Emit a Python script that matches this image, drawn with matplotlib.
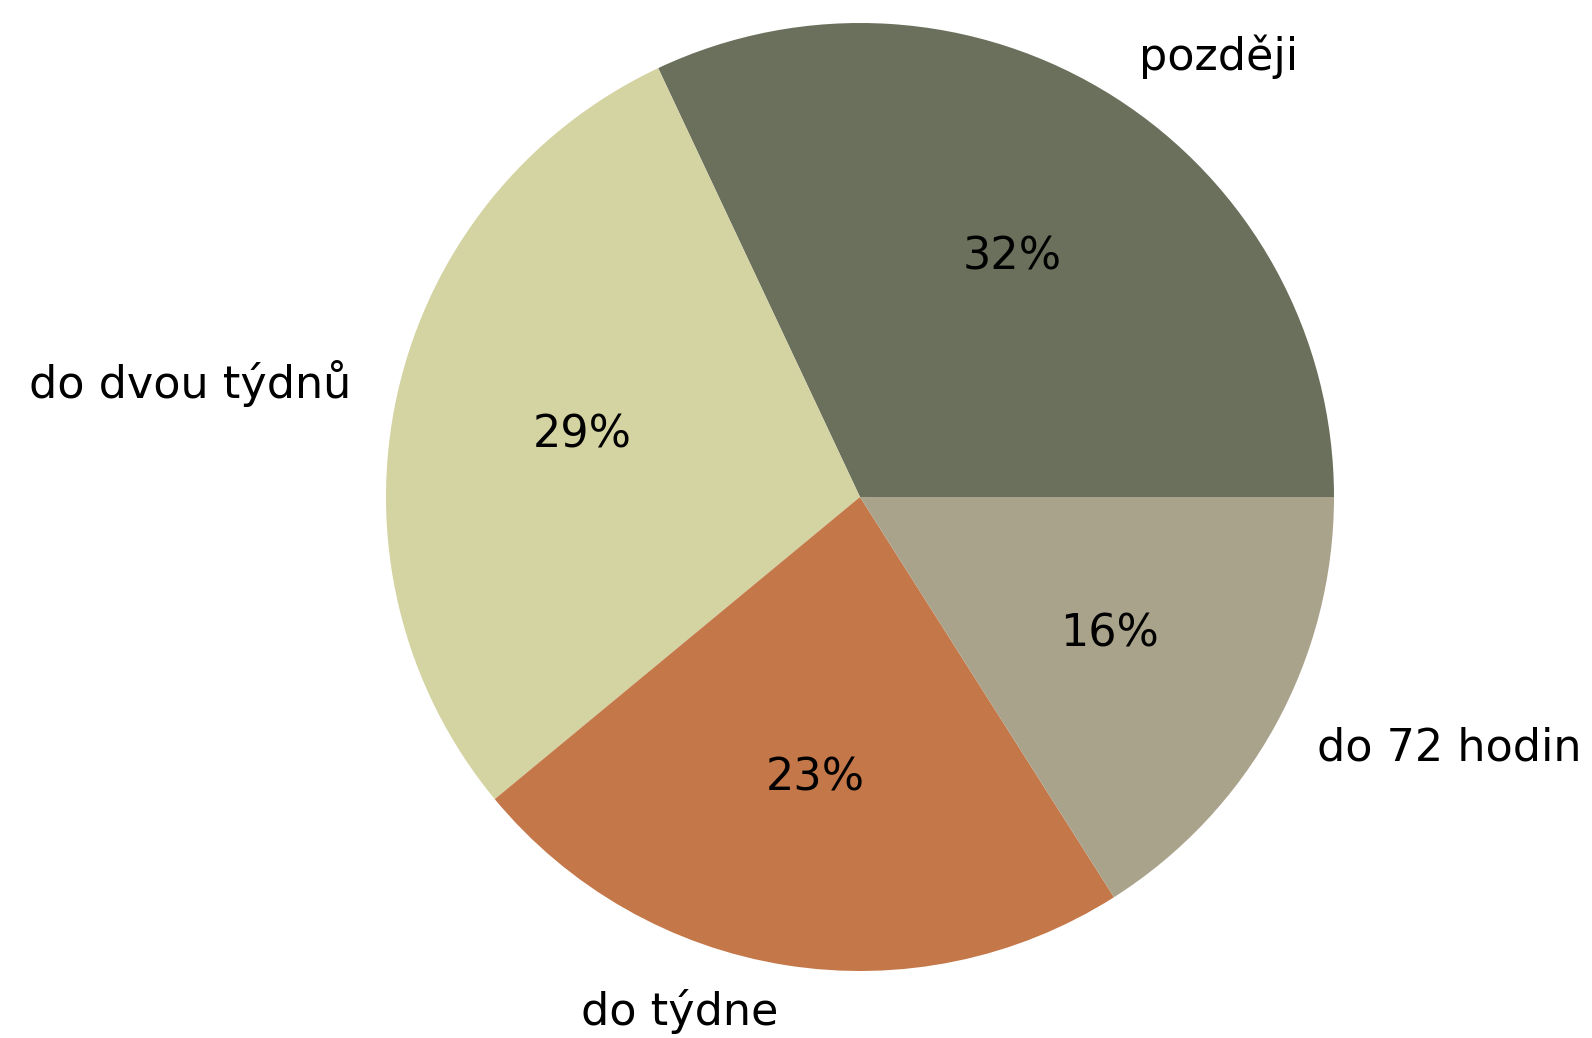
import matplotlib
matplotlib.use("Agg")
import matplotlib.pyplot as plt

labels = ["později", "do dvou týdnů", "do týdne", "do 72 hodin"]
values = [32, 29, 23, 16]
colors = ["#6b705c", "#d4d3a2", "#c47748", "#aaa38c"]

W, H = 1592, 1038
fig = plt.figure(figsize=(W / 100, H / 100), dpi=100)

cx, cy, r = 860, 497, 474
ax = fig.add_axes([(cx - r) / W, 1 - (cy + r) / H, 2 * r / W, 2 * r / H])

wedges, texts, autotexts = ax.pie(values, labels=labels, colors=colors,
                                  autopct="%1.0f%%", startangle=0,
                                  counterclock=True,
                                  textprops={"fontsize": 32})
ax.set_xlim(-1, 1)
ax.set_ylim(-1, 1)
ax.set_aspect("equal")
ax.axis("off")

fig.savefig("out.png", dpi=100)
